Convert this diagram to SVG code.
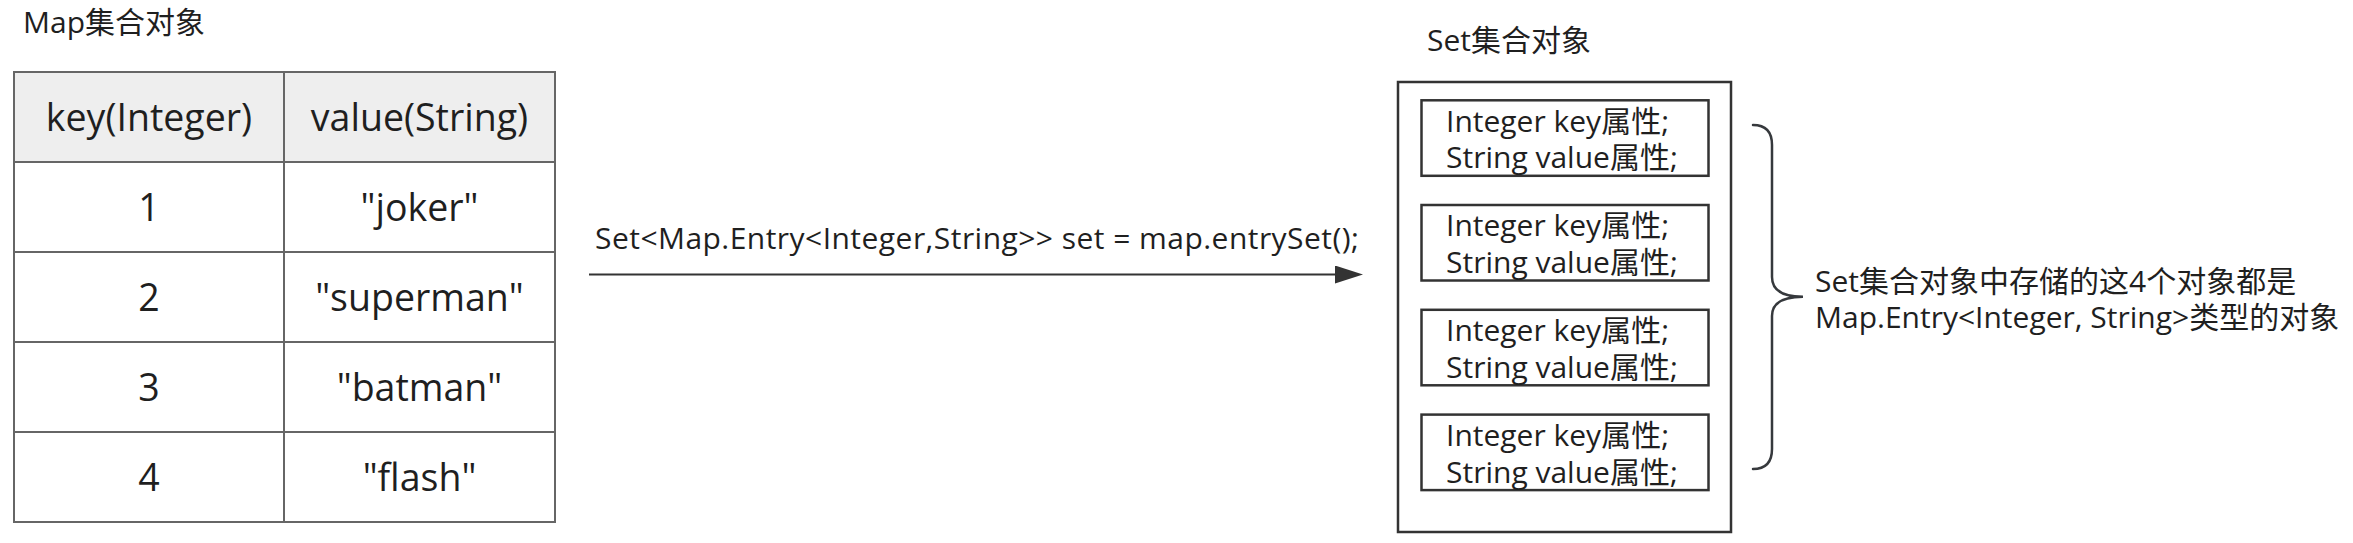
<svg xmlns="http://www.w3.org/2000/svg" width="2353" height="543" viewBox="0 0 2353 543">
  <style>
    text { font-family: "Open Sans", "Noto Sans CJK SC", sans-serif; fill: #1f1f1f; }
    .title { font-size: 30px; }
    .cell { font-size: 37.5px; text-anchor: middle; }
    .attr { font-size: 30px; }
    .note { font-size: 30px; }
    .label { font-size: 30px; }
    .grid { stroke: #666666; stroke-width: 2; fill: none; }
    .box { stroke: #333333; stroke-width: 2.5; fill: #ffffff; }
    .conn { stroke: #333333; stroke-width: 2.2; fill: none; }
    .brace { stroke: #36393d; stroke-width: 2.5; fill: none; stroke-linecap: round; }
  </style>
  <defs>
    <marker id="arrow" markerUnits="userSpaceOnUse" markerWidth="28" markerHeight="18" refX="5" refY="9" orient="auto">
      <path d="M0,0 L28,9 L0,18 Z" fill="#333333"/>
    </marker>
  </defs>
  <rect x="0" y="0" width="2353" height="543" fill="#ffffff"/>

  <g id="map-title">
    <text class="title" x="23" y="33">Map集合对象</text>
  </g>

  <g id="map-table">
    <rect x="14" y="72" width="541" height="90" fill="#eeeeee"/>
    <rect class="grid" x="14" y="72" width="541" height="450"/>
    <line class="grid" x1="284" y1="72" x2="284" y2="522"/>
    <line class="grid" x1="14" y1="162" x2="555" y2="162"/>
    <line class="grid" x1="14" y1="252" x2="555" y2="252"/>
    <line class="grid" x1="14" y1="342" x2="555" y2="342"/>
    <line class="grid" x1="14" y1="432" x2="555" y2="432"/>
    <text class="cell" x="149" y="130.7">key(Integer)</text>
    <text class="cell" x="419.5" y="130.7">value(String)</text>
    <text class="cell" x="149" y="220.7">1</text>
    <text class="cell" x="419.5" y="220.7">"joker"</text>
    <text class="cell" x="149" y="310.7">2</text>
    <text class="cell" x="419.5" y="310.7">"superman"</text>
    <text class="cell" x="149" y="400.7">3</text>
    <text class="cell" x="419.5" y="400.7">"batman"</text>
    <text class="cell" x="149" y="490.7">4</text>
    <text class="cell" x="419.5" y="490.7">"flash"</text>
  </g>

  <g id="connectors">
    <line class="conn" x1="589" y1="274.5" x2="1340" y2="274.5" marker-end="url(#arrow)"/>
    <text class="label" x="595" y="249" textLength="764" lengthAdjust="spacing">Set&lt;Map.Entry&lt;Integer,String&gt;&gt; set = map.entrySet();</text>
  </g>

  <g id="set-title">
    <text class="title" x="1427" y="51">Set集合对象</text>
  </g>

  <g id="set-box">
    <rect class="box" x="1398" y="82" width="333" height="450"/>
  </g>

  <g id="entry-1">
    <rect class="box" x="1421.5" y="100.3" width="287" height="75.5"/>
    <text class="attr" x="1446" y="131.7">Integer key属性;</text>
    <text class="attr" x="1446" y="168.4">String value属性;</text>
  </g>
  <g id="entry-2">
    <rect class="box" x="1421.5" y="205" width="287" height="75.5"/>
    <text class="attr" x="1446" y="236.4">Integer key属性;</text>
    <text class="attr" x="1446" y="273.1">String value属性;</text>
  </g>
  <g id="entry-3">
    <rect class="box" x="1421.5" y="309.8" width="287" height="75.5"/>
    <text class="attr" x="1446" y="341.2">Integer key属性;</text>
    <text class="attr" x="1446" y="377.9">String value属性;</text>
  </g>
  <g id="entry-4">
    <rect class="box" x="1421.5" y="414.6" width="287" height="75.5"/>
    <text class="attr" x="1446" y="446">Integer key属性;</text>
    <text class="attr" x="1446" y="482.7">String value属性;</text>
  </g>

  <g id="brace">
    <path class="brace" d="M1753,125 Q1772,125 1772,145 L1772,277 Q1772,296.7 1803,296.7 Q1772,296.7 1772,316 L1772,449 Q1772,469 1753,469"/>
  </g>

  <g id="note">
    <text class="note" x="1815" y="291.7">Set集合对象中存储的这4个对象都是</text>
    <text class="note" x="1815" y="327.7">Map.Entry&lt;Integer, String&gt;类型的对象</text>
  </g>
</svg>
